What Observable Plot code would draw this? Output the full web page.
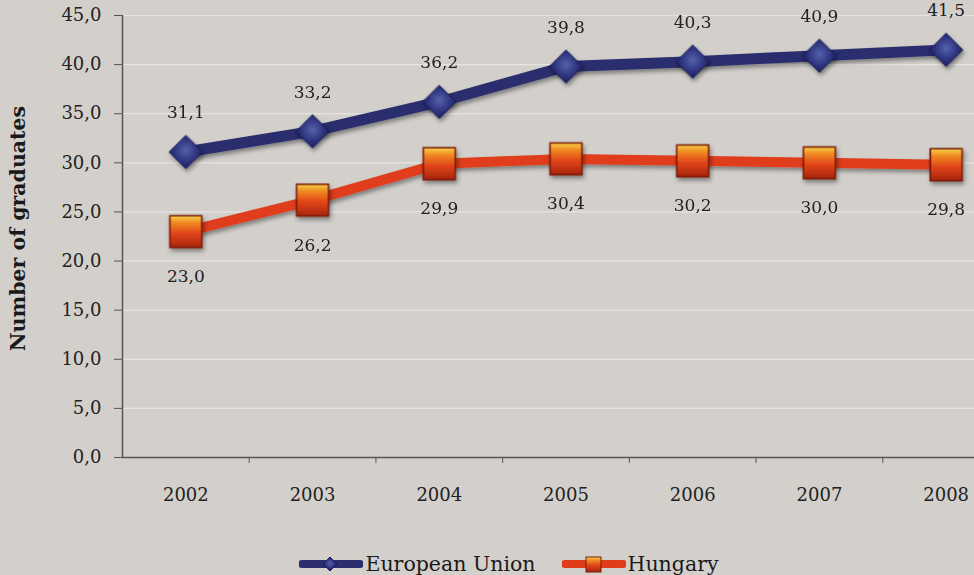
<!DOCTYPE html>
<html>
<head>
<meta charset="utf-8">
<script src="https://cdn.jsdelivr.net/npm/d3@7"></script>
<script src="https://cdn.jsdelivr.net/npm/@observablehq/plot@0.6"></script>
<style>
  html, body { margin: 0; padding: 0; background: #d3d0cc; width: 974px; height: 575px; overflow: hidden; }
  #chart svg { display: block; overflow: visible; }
  #legend { height: 30px; display: flex; justify-content: center; align-items: center; gap: 26px;
            font-family: "DejaVu Serif", serif; font-size: 20.5px; color: #1a1a1a; padding-top: 4px; padding-left: 44px; }
  .item { display: flex; align-items: center; }
</style>
</head>
<body>
<div id="chart"></div>
<div id="legend"></div>
<script>
const years = [2002, 2003, 2004, 2005, 2006, 2007, 2008];
const euValues = [31.1, 33.2, 36.2, 39.8, 40.3, 40.9, 41.5];
const huValues = [23.0, 26.2, 29.9, 30.4, 30.2, 30.0, 29.8];
const yTicks = [0, 5, 10, 15, 20, 25, 30, 35, 40, 45];
const seriesNames = ["European Union", "Hungary"];
const yLabel = "Number of graduates";

const eu = years.map((y, i) => ({year: y, value: euValues[i]}));
const hu = years.map((y, i) => ({year: y, value: huValues[i]}));
const fmt = d => d3.format(".1f")(d).replace(".", ",");
const bounds = years.map(y => y + 0.5).slice(0, -1);
const font = "DejaVu Serif, serif";

const chart = Plot.plot({
  width: 974,
  height: 545,
  marginLeft: 122,
  marginRight: -35,
  marginTop: 15,
  marginBottom: 88,
  x: {type: "linear", domain: [years[0] - 0.5, years[years.length - 1] + 0.5]},
  y: {domain: [0, 45]},
  style: {background: "transparent", fontFamily: font, fontSize: "16px", color: "#222", overflow: "visible"},
  marks: [
    Plot.gridY(yTicks, {stroke: "#e6e4e1", strokeOpacity: 1, strokeWidth: 1.2}),
    Plot.axisY({ticks: yTicks, tickFormat: fmt, tickSize: 8, tickPadding: 13, label: null, stroke: "#555", fontSize: 18, fill: "#222"}),
    Plot.axisX({ticks: years, tickFormat: d => String(d), tickSize: 0, tickPadding: 31, label: null, fontSize: 18, fill: "#222"}),
    Plot.axisX({ticks: bounds, tickFormat: () => "", tickSize: 6, label: null, stroke: "#555"}),
    Plot.ruleX([years[0] - 0.5], {stroke: "#555", strokeWidth: 1.5}),
    Plot.ruleY([0], {stroke: "#555", strokeWidth: 1.5}),
    Plot.line(eu, {x: "year", y: "value", stroke: "#2c2f6e", strokeWidth: 11}),
    Plot.line(hu, {x: "year", y: "value", stroke: "#e03c1a", strokeWidth: 10}),
    Plot.dot(eu, {x: "year", y: "value", symbol: "diamond2", r: 15, fill: "url(#euGrad)", stroke: "#181b4f", strokeWidth: 1}),
    Plot.dot(hu, {x: "year", y: "value", symbol: "square", r: 18, fill: "url(#huGrad)", stroke: "#7a1a08", strokeWidth: 1.5}),
    Plot.text(eu, {x: "year", y: "value", text: d => fmt(d.value), dy: -39, fontSize: 17, fill: "#222"}),
    Plot.text(hu, {x: "year", y: "value", text: d => fmt(d.value), dy: 45, fontSize: 17, fill: "#222"}),
    Plot.text([yLabel], {frameAnchor: "left", textAnchor: "middle", rotate: -90, dx: -104, dy: -8, fontSize: 20.5, fontWeight: "bold", fill: "#1a1a1a"})
  ]
});

const defs = `
<defs>
  <radialGradient id="euGrad" cx="50%" cy="45%" r="60%">
    <stop offset="0%" stop-color="#5662ad"/>
    <stop offset="55%" stop-color="#2f3580"/>
    <stop offset="100%" stop-color="#181c55"/>
  </radialGradient>
  <linearGradient id="huGrad" x1="0" y1="0" x2="0" y2="1">
    <stop offset="0%" stop-color="#f7d24a"/>
    <stop offset="22%" stop-color="#f08a22"/>
    <stop offset="55%" stop-color="#e2461a"/>
    <stop offset="100%" stop-color="#a6250d"/>
  </linearGradient>
  <filter id="shadow" x="-30%" y="-30%" width="160%" height="180%">
    <feDropShadow dx="1.5" dy="3" stdDeviation="2" flood-color="#000" flood-opacity="0.4"/>
  </filter>
</defs>`;
chart.insertAdjacentHTML("afterbegin", defs);
d3.select(chart).selectAll('g[aria-label="line"], g[aria-label="dot"]').attr("filter", "url(#shadow)");
document.getElementById("chart").appendChild(chart);

// Legend
const legendColors = [
  {line: "#2c2f6e", sym: "diamond"},
  {line: "#e03c1a", sym: "square"}
];
const legend = document.getElementById("legend");
seriesNames.forEach((name, i) => {
  const c = legendColors[i];
  const marker = c.sym === "diamond"
    ? `<path d="M31,4 L38,11 L31,18 L24,11 Z" fill="url(#euGrad)" stroke="#181b4f"/>`
    : `<rect x="24" y="4" width="15" height="15" fill="url(#huGrad)" stroke="#7a1a08"/>`;
  legend.insertAdjacentHTML("beforeend",
    `<div class="item"><svg width="64" height="22"><line x1="3" x2="61" y1="11" y2="11" stroke="${c.line}" stroke-width="8" stroke-linecap="round"/>${marker}</svg><span style="margin-left:2px">${name}</span></div>`);
});
</script>
</body>
</html>
